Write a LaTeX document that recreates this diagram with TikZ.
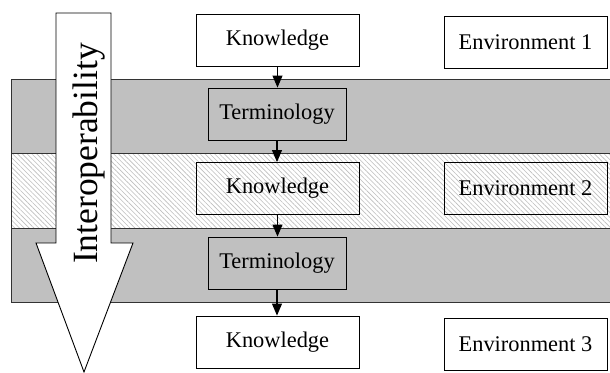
\documentclass[tikz,border=0pt]{standalone}
\usepackage{fontspec}
\setmainfont{Liberation Serif}
\usetikzlibrary{arrows.meta,patterns.meta}
\definecolor{bandgray}{HTML}{C0C0C0}
\definecolor{hatchgray}{HTML}{BEBEBE}
\begin{document}
\begin{tikzpicture}[x=1pt,y=-1pt,
  box/.style={draw=black,line width=0.9pt,minimum width=163pt,minimum height=52pt,inner sep=0pt,font=\fontsize{22.4}{25}\selectfont},
  termbox/.style={box,minimum width=138pt,fill=bandgray},
  band/.style={draw=black!80,line width=0.9pt,fill=bandgray},
  hatchband/.style={draw=black!80,line width=0.9pt,pattern={Lines[angle=-45,distance=3.4pt,line width=0.6pt]},pattern color=hatchgray},
  conn/.style={line width=1.1pt,-{Triangle[length=12pt,width=10pt]}}]
\useasboundingbox[fill=white] (0,0) rectangle (610,372);
% bands
\path[band] (11,79) rectangle (612,153);
\path[hatchband] (11,153) rectangle (612,228);
\path[band] (11,228) rectangle (612,302);
% interoperability arrow
\draw[line width=0.9pt,fill=white] (56,13) -- (111,13) -- (111,243) -- (133,243) -- (84,372) -- (36,243) -- (56,243) -- cycle;
\node[rotate=90,anchor=base,font=\fontsize{35.5}{40}\selectfont,inner sep=0pt] (interop) at (97,153.5) {Interoperability};
% boxes
\node[box,fill=white] (k1) at (277.5,40) {Knowledge};
\node[termbox] (t1) at (277,114) {Terminology};
\node[box] (k2) at (277.5,188.5) {Knowledge};
\node[termbox] (t2) at (277,263) {Terminology};
\node[box,fill=white] (k3) at (277.5,342) {Knowledge};
\node[box,fill=white] (e1) at (525.5,42) {Environment 1};
\node[box] (e2) at (525.5,188.5) {Environment 2};
\node[box,fill=white] (e3) at (525.5,344) {Environment 3};
% connectors
\draw[conn] (k1.south) -- (k1.south |- t1.north);
\draw[conn] (t1.south) -- (t1.south |- k2.north);
\draw[conn] (k2.south) -- (k2.south |- t2.north);
\draw[conn] (t2.south) -- (t2.south |- k3.north);
\end{tikzpicture}
\end{document}
